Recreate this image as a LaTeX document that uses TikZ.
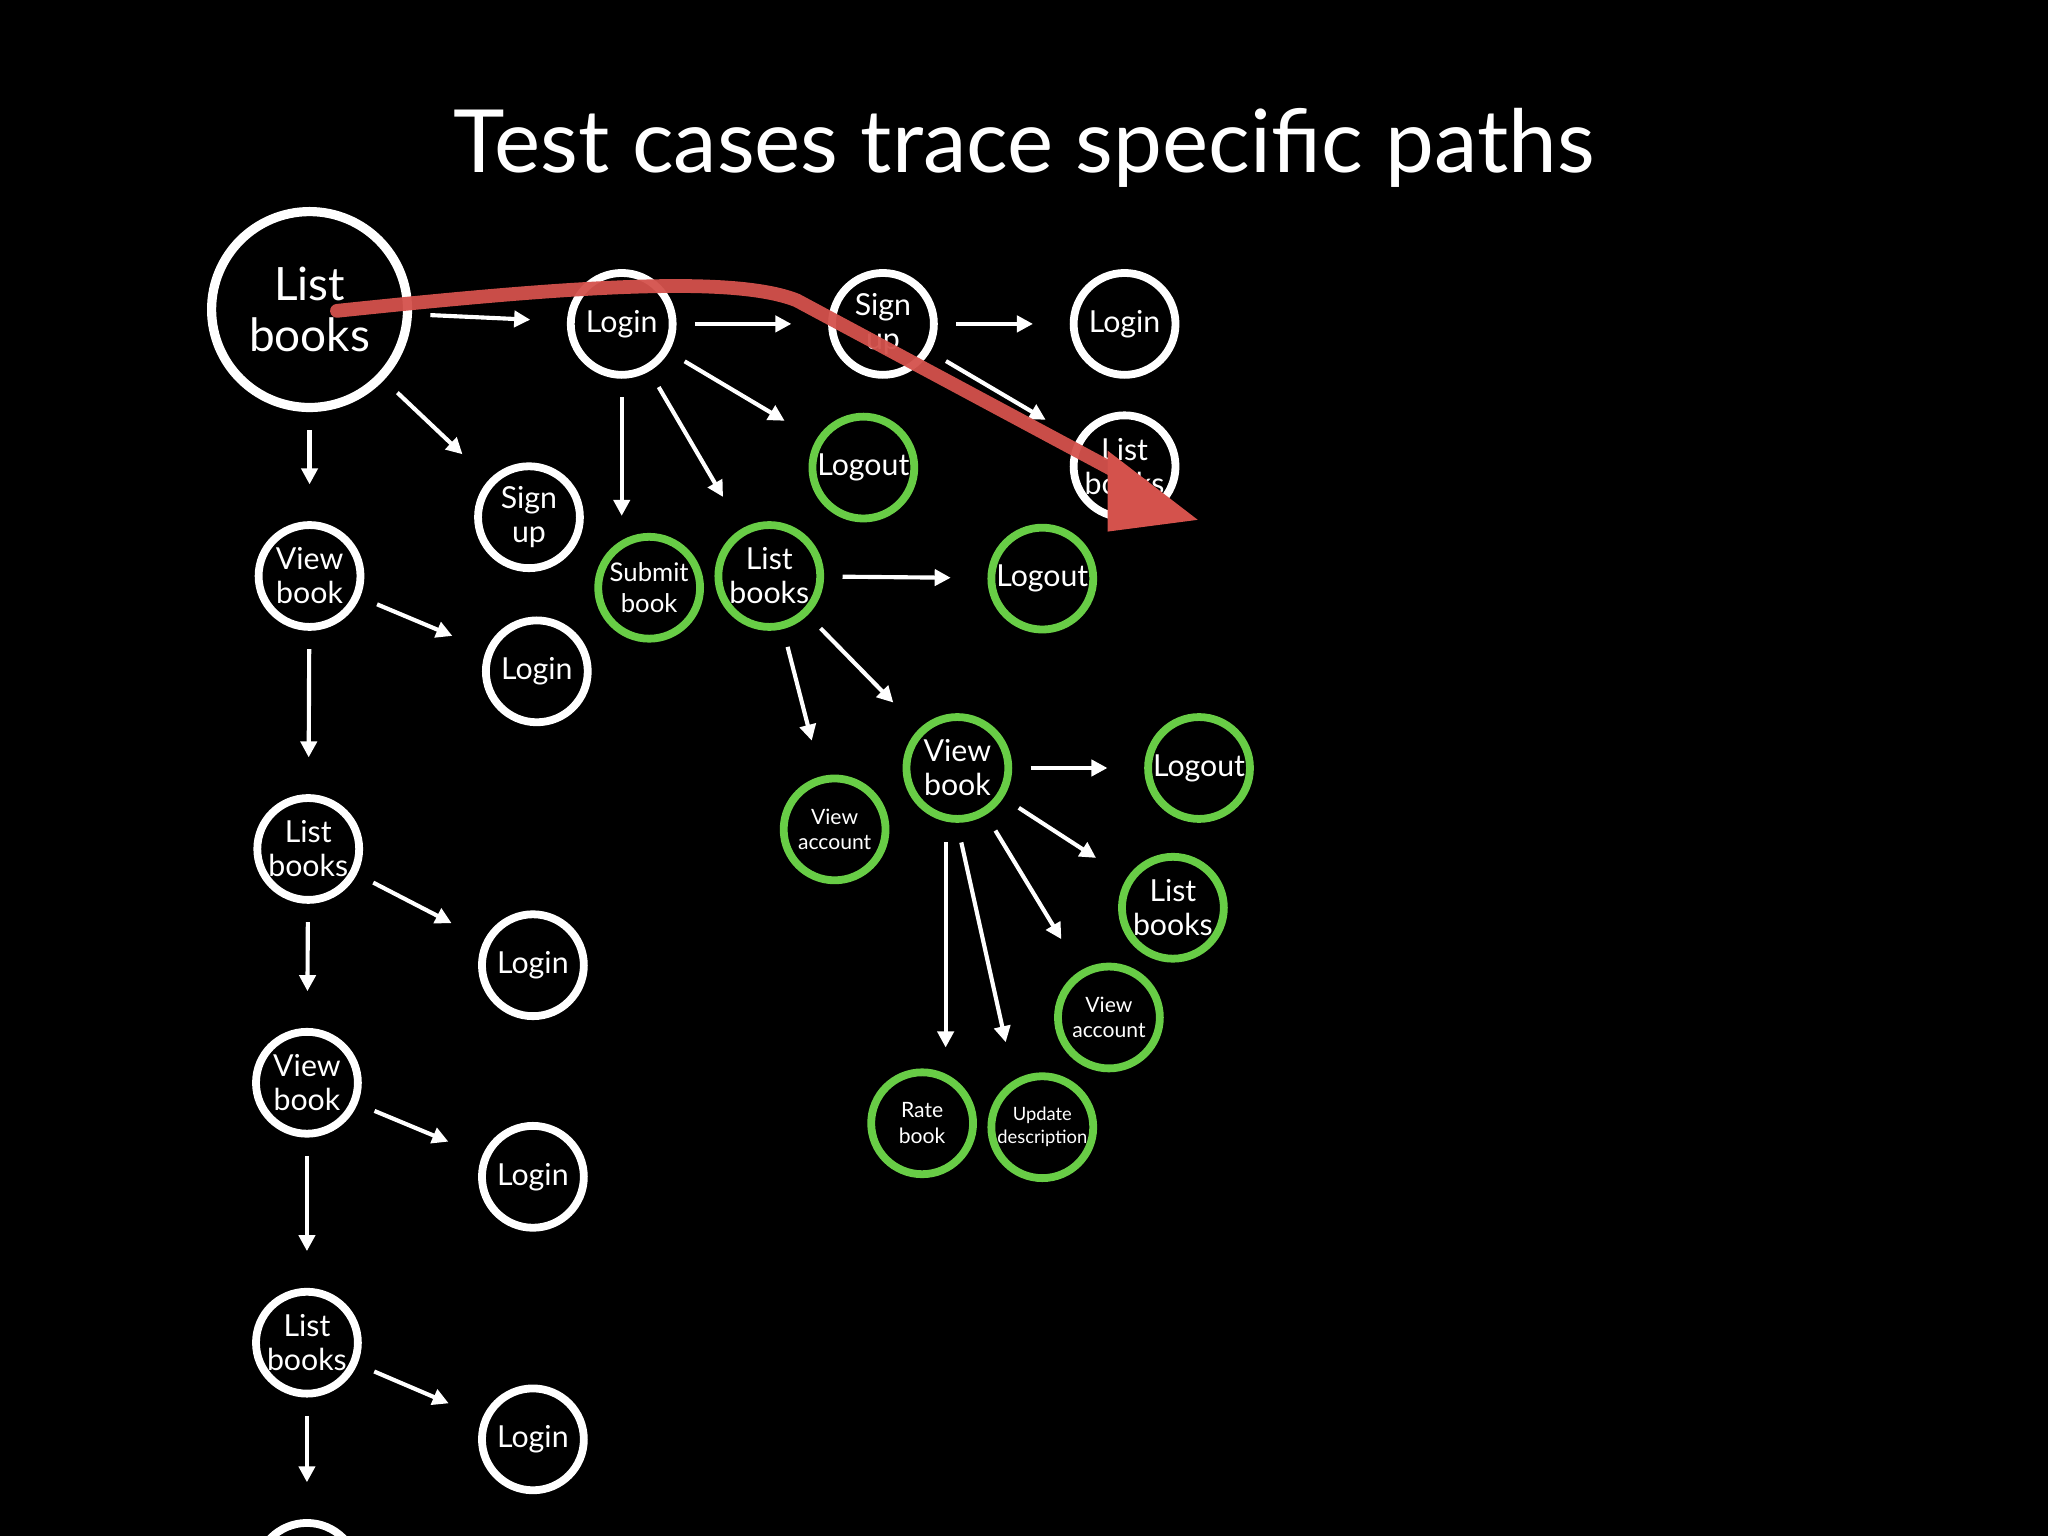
\documentclass[tikz,border=0pt]{standalone}
\usepackage{fontspec}
\setmainfont{Lato}
\usetikzlibrary{arrows.meta}
\definecolor{gr}{RGB}{104,205,70}
\definecolor{rd}{RGB}{212,82,76}
\tikzset{
 st/.style={circle,draw=white,line width=1.7pt,minimum size=0.78cm,inner sep=0pt,text=white,align=center,font=\fontsize{6.6}{7.4}\selectfont},
 gn/.style={st,draw=gr},
 sm/.style={font=\fontsize{4.6}{5.6}\selectfont},
 ar/.style={white,line width=0.9pt,-{Triangle[length=3.5pt,width=3.5pt]},shorten <=4pt,shorten >=8pt}
}
\begin{document}
\begin{tikzpicture}
\fill[black] (0,0) rectangle (15.68,-11.76);
\useasboundingbox (0,0) rectangle (15.68,-11.76);
\node[white,font=\fontsize{19}{22}\selectfont] (t) at (7.84,-1.13) {Test cases trace specific paths};
\node[st,minimum size=1.5cm,line width=2pt,font=\fontsize{10}{11}\selectfont] (lb0) at (2.37,-2.37) {List\\books};
\node[st] (lg1) at (4.76,-2.48) {Login};
\node[st] (su1) at (6.76,-2.48) {Sign\\up};
\node[st] (lg2) at (8.61,-2.48) {Login};
\node[st] (lb1) at (8.61,-3.57) {List\\books};
\node[gn] (lo1) at (6.61,-3.58) {Logout};
\node[st] (su0) at (4.05,-3.96) {Sign\\up};
\node[st] (vb0) at (2.37,-4.41) {View\\book};
\node[gn,font=\fontsize{5.6}{6.6}\selectfont] (sb) at (4.97,-4.50) {Submit\\book};
\node[gn] (lb2) at (5.89,-4.41) {List\\books};
\node[gn] (lo2) at (7.98,-4.43) {Logout};
\node[st] (lg0) at (4.11,-5.14) {Login};
\node[gn] (vb1) at (7.33,-5.88) {View\\book};
\node[gn] (lo3) at (9.18,-5.88) {Logout};
\node[gn,sm] (va1) at (6.39,-6.35) {View\\account};
\node[gn] (lb3) at (8.98,-6.95) {List\\books};
\node[gn,sm] (va2) at (8.49,-7.79) {View\\account};
\node[gn,sm] (rb) at (7.06,-8.60) {Rate\\book};
\node[gn,font=\fontsize{4}{5}\selectfont] (ud) at (7.98,-8.63) {Update\\description};
\node[st] (lb4) at (2.36,-6.50) {List\\books};
\node[st] (lg3) at (4.08,-7.39) {Login};
\node[st] (vb2) at (2.35,-8.29) {View\\book};
\node[st] (lg4) at (4.08,-9.01) {Login};
\node[st] (lb5) at (2.35,-10.28) {List\\books};
\node[st] (lg5) at (4.08,-11.02) {Login};
\node[st] (lb6) at (2.35,-12.05) {};
\coordinate (c1) at (4.76,-3.95);
\coordinate (c3) at (7.24,-6.45);
\coordinate (c2) at (7.24,-8.02);
\coordinate (c4) at (7.36,-6.45);
\coordinate (c5) at (7.7,-7.98);
\draw[ar] (lb0) -- (lg1);
\draw[ar] (lb0) -- (su0);
\draw[ar] (lb0) -- (vb0);
\draw[ar] (lg1) -- (su1);
\draw[ar] (lg1) -- (lo1);
\draw[ar,shorten >=0pt] (lg1) -- (c1);
\draw[ar] (lg1) -- (lb2);
\draw[ar] (su1) -- (lg2);
\draw[ar] (su1) -- (lb1);
\draw[ar] (vb0) -- (lg0);
\draw[ar] (vb0) -- (lb4);
\draw[ar] (lb2) -- (lo2);
\draw[ar] (lb2) -- (vb1);
\draw[ar] (lb2) -- (va1);
\draw[ar] (vb1) -- (lo3);
\draw[ar] (vb1) -- (lb3);
\draw[ar] (vb1) -- (va2);
\draw[ar,shorten <=0pt,shorten >=0pt] (c3) -- (c2);
\draw[ar,shorten <=0pt,shorten >=0pt] (c4) -- (c5);
\draw[ar] (lb4) -- (lg3);
\draw[ar] (lb4) -- (vb2);
\draw[ar] (vb2) -- (lg4);
\draw[ar] (vb2) -- (lb5);
\draw[ar] (lb5) -- (lg5);
\draw[ar] (lb5) -- (lb6);
\coordinate (r0) at (2.58,-2.38);
\coordinate (r1) at (8.75,-3.72);
\draw[rd,line width=3pt,line cap=round,opacity=0.95] (r0) .. controls (4.3,-2.2) and (5.6,-2.1) .. (6.1,-2.3) -- (r1);
\fill[rd] (8.48,-3.45) -- (9.17,-3.98) -- (8.48,-4.07) -- cycle;
\end{tikzpicture}
\end{document}
